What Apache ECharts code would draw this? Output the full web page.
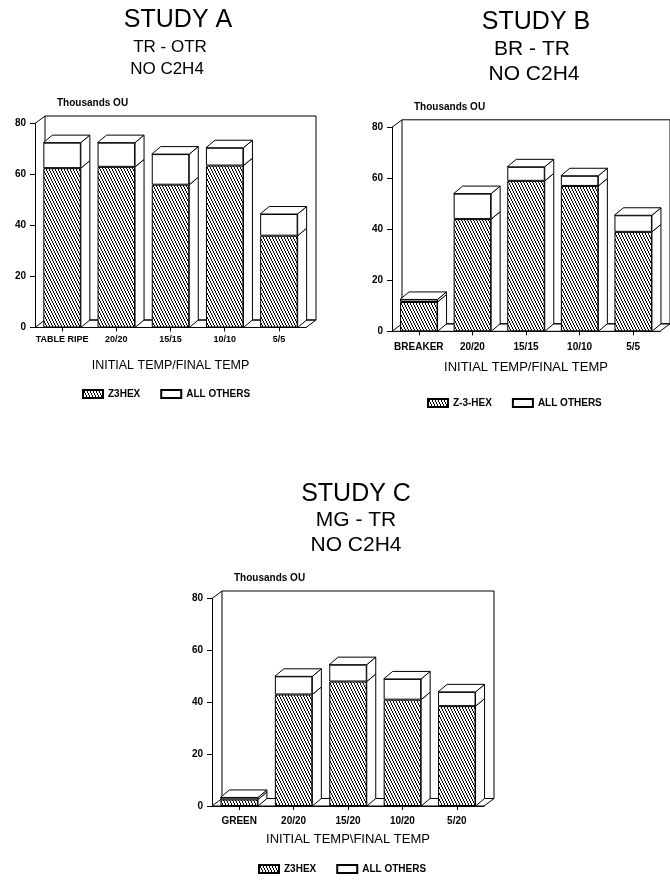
<!DOCTYPE html>
<html>
<head>
<meta charset="utf-8">
<script src="https://cdn.jsdelivr.net/npm/echarts@6/dist/echarts.min.js"></script>
<style>
  html, body { margin: 0; padding: 0; background: #fff; }
  #chart { width: 670px; height: 883px; }
</style>
</head>
<body>
<div id="chart"></div>
<script>
// Study A: TR - OTR
var catsA = ['TABLE RIPE', '20/20', '15/15', '10/10', '5/5']
var z3A = [62.5, 63, 56, 63.5, 36]
var othersA = [10, 9.5, 12, 7, 8.5]
// Study B: BR - TR
var catsB = ['BREAKER', '20/20', '15/15', '10/10', '5/5']
var z3B = [11.5, 44, 59, 57, 39]
var othersB = [1, 10, 5.5, 4, 6.5]
// Study C: MG - TR
var catsC = ['GREEN', '20/20', '15/20', '10/20', '5/20']
var z3C = [2.5, 43, 48, 41, 38.5]
var othersC = [0.8, 7, 6.5, 8, 5.5]
var yTicks = [0, 20, 40, 60, 80]

var FONT = 'Liberation Sans'
var BAR_W = 37.5
var DX = 9, DY = -7.5      // bar depth
var WX = 10, WY = -7.5     // back wall offset

// diagonal hatch used for the Z3HEX part
function makeHatch() {
  var c = document.createElement('canvas')
  c.width = 6
  c.height = 6
  var ctx = c.getContext('2d')
  var img = ctx.createImageData(6, 6)
  for (var y = 0; y < 6; y++) {
    for (var x = 0; x < 6; x++) {
      var k = (((2 * x - y) % 6) + 6) % 6
      var i = (y * 6 + x) * 4
      var ink = k === 0 || k === 1
      img.data[i] = ink ? 0 : 255
      img.data[i + 1] = ink ? 0 : 255
      img.data[i + 2] = ink ? 0 : 255
      img.data[i + 3] = 255
    }
  }
  ctx.putImageData(img, 0, 0)
  return { image: c, repeat: 'repeat' }
}
var hatch = makeHatch()

var chart = echarts.init(document.getElementById('chart'))

// back wall + floor drawn from the grid rect
function renderFrame(params, api) {
  var r = params.coordSys
  var x0 = r.x, x1 = r.x + r.width, yt = r.y, yb = r.y + r.height
  var s = { fill: null, stroke: '#000', lineWidth: 1 }
  return {
    type: 'group',
    children: [
      { type: 'polygon', shape: { points: [[x0, yb], [x1, yb], [x1 + WX, yb + WY], [x0 + WX, yb + WY]] }, style: { fill: '#fff', stroke: '#000', lineWidth: 1 } },
      { type: 'rect', shape: { x: x0 + WX, y: yt + WY, width: r.width, height: r.height }, style: s },
      { type: 'line', shape: { x1: x0, y1: yt, x2: x0 + WX, y2: yt + WY }, style: s }
    ]
  }
}

// side and top faces of each stacked bar
function renderBox(params, api) {
  var cat = api.value(0)
  var base = api.coord([cat, 0])
  var mid = api.coord([cat, api.value(1)])
  var top = api.coord([cat, api.value(2)])
  var xl = base[0] - BAR_W / 2, xr = base[0] + BAR_W / 2
  var s = { fill: '#fff', stroke: '#000', lineWidth: 1 }
  return {
    type: 'group',
    children: [
      { type: 'polygon', shape: { points: [[xr, base[1]], [xr + DX, base[1] + DY], [xr + DX, mid[1] + DY], [xr, mid[1]]] }, style: s },
      { type: 'polygon', shape: { points: [[xr, mid[1]], [xr + DX, mid[1] + DY], [xr + DX, top[1] + DY], [xr, top[1]]] }, style: s },
      { type: 'polygon', shape: { points: [[xl, top[1]], [xl + DX, top[1] + DY], [xr + DX, top[1] + DY], [xr, top[1]]] }, style: s }
    ]
  }
}

function boxData(z3, others) {
  return z3.map(function (v, i) { return [i, v, v + others[i]] })
}

function xAxisFor(idx, cats, fontSize, labelMargin, nameText, nameGap, nameSize) {
  return {
    type: 'category',
    gridIndex: idx,
    data: cats,
    axisLine: { lineStyle: { color: '#000', width: 1 } },
    axisTick: { show: true, alignWithLabel: true, length: 4, lineStyle: { color: '#000' } },
    axisLabel: { color: '#000', fontFamily: FONT, fontWeight: 'bold', fontSize: fontSize, margin: labelMargin, interval: 0 },
    name: nameText,
    nameLocation: 'middle',
    nameGap: nameGap,
    nameTextStyle: { color: '#000', fontFamily: FONT, fontSize: nameSize }
  }
}

function yAxisFor(idx) {
  return {
    type: 'value',
    gridIndex: idx,
    min: yTicks[0],
    max: yTicks[yTicks.length - 1],
    interval: 20,
    axisLine: { show: true, lineStyle: { color: '#000', width: 1 } },
    axisTick: { show: true, length: 5, lineStyle: { color: '#000' } },
    axisLabel: { color: '#000', fontFamily: FONT, fontWeight: 'bold', fontSize: 10, margin: 9 },
    splitLine: { show: false },
    name: 'Thousands OU',
    nameLocation: 'end',
    nameGap: 15,
    nameTextStyle: { color: '#000', fontFamily: FONT, fontWeight: 'bold', fontSize: 10, align: 'left', padding: [0, 0, 0, 22] }
  }
}

function seriesFor(idx, z3Name, z3, others) {
  return [
    { type: 'custom', xAxisIndex: idx, yAxisIndex: idx, z: 1, silent: true, renderItem: renderFrame, data: [[0, 0]] },
    {
      name: z3Name, type: 'bar', stack: 's' + idx, xAxisIndex: idx, yAxisIndex: idx, barWidth: BAR_W, z: 2,
      itemStyle: { color: hatch, borderColor: '#000', borderWidth: 1 }, data: z3
    },
    {
      name: 'ALL OTHERS', type: 'bar', stack: 's' + idx, xAxisIndex: idx, yAxisIndex: idx, barWidth: BAR_W, z: 2,
      itemStyle: { color: '#fff', borderColor: '#000', borderWidth: 1 }, data: others
    },
    { type: 'custom', xAxisIndex: idx, yAxisIndex: idx, z: 3, silent: true, renderItem: renderBox, encode: { x: 0, y: 2 }, data: boxData(z3, others) }
  ]
}

function titleItem(text, cx, top, size) {
  return { text: text, left: cx, top: top, textAlign: 'center', padding: 0, textStyle: { color: '#000', fontFamily: FONT, fontWeight: 'normal', fontSize: size } }
}

function legendFor(names, left, top) {
  return {
    data: names,
    left: left,
    top: top,
    icon: 'rect',
    itemWidth: 20,
    itemHeight: 8,
    itemGap: 20,
    padding: 0,
    textStyle: { color: '#000', fontFamily: FONT, fontWeight: 'bold', fontSize: 10 }
  }
}

chart.setOption({
  animation: false,
  title: [
    titleItem('STUDY A', 178, 8, 25),
    titleItem('TR - OTR', 170, 39, 17),
    titleItem('NO C2H4', 167, 61, 17),
    titleItem('STUDY B', 536, 10, 25),
    titleItem('BR - TR', 532, 39, 21),
    titleItem('NO C2H4', 534, 64, 21),
    titleItem('STUDY C', 356, 482, 25),
    titleItem('MG - TR', 356, 510, 21),
    titleItem('NO C2H4', 356, 535, 21)
  ],
  legend: [
    legendFor(['Z3HEX', 'ALL OTHERS'], 82, 389),
    legendFor(['Z-3-HEX', 'ALL OTHERS'], 427, 398),
    legendFor(['Z3HEX', 'ALL OTHERS'], 258, 864)
  ],
  grid: [
    { left: 35, top: 123.5, width: 271, height: 204 },
    { left: 392, top: 127.3, width: 268, height: 204 },
    { left: 212, top: 598.5, width: 272, height: 207.5 }
  ],
  xAxis: [
    xAxisFor(0, catsA, 9, 8, 'INITIAL TEMP/FINAL TEMP', 32, 12.5),
    xAxisFor(1, catsB, 10, 11, 'INITIAL TEMP/FINAL TEMP', 30, 13),
    xAxisFor(2, catsC, 10, 10, 'INITIAL TEMP\\FINAL TEMP', 27, 13)
  ],
  yAxis: [yAxisFor(0), yAxisFor(1), yAxisFor(2)],
  series: [].concat(
    seriesFor(0, 'Z3HEX', z3A, othersA),
    seriesFor(1, 'Z-3-HEX', z3B, othersB),
    seriesFor(2, 'Z3HEX', z3C, othersC)
  )
})
</script>
</body>
</html>
